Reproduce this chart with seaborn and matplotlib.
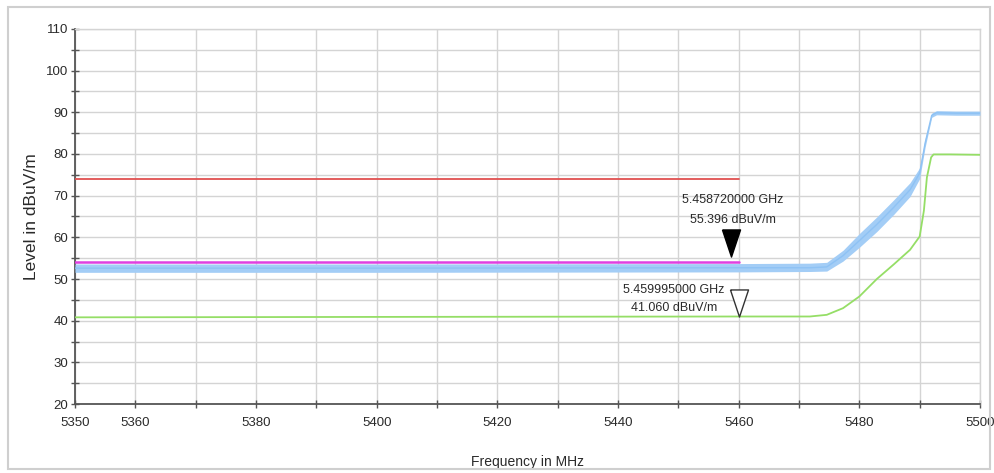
import numpy as np
import pandas as pd
import matplotlib
matplotlib.use("Agg")
import matplotlib.pyplot as plt
import seaborn as sns
from matplotlib.patches import Rectangle
from matplotlib.transforms import ScaledTranslation

# ---------------- data ----------------
blue_freq = [5350, 5400, 5460, 5471.8, 5474.6, 5477.3, 5480.0, 5482.9, 5485.7,
             5488.4, 5490.0, 5490.9, 5492.0, 5492.8, 5496, 5500]
blue_level = [52.6, 52.6, 52.7, 52.7, 52.9, 55.6, 59.2, 63.1, 67.2,
              71.4, 75.4, 82.6, 89.3, 89.9, 89.8, 89.8]
blue_low = [51.6, 51.6, 51.7, 51.8, 51.9, 54.3, 57.6, 61.4, 65.5,
            69.8, 74.1, 81.6, 88.8, 89.4, 89.3, 89.3]
blue_high = [53.6, 53.6, 53.7, 53.8, 54.0, 56.9, 60.9, 64.9, 69.0,
             73.1, 76.7, 83.6, 89.8, 90.4, 90.3, 90.3]

green_freq = [5350, 5400, 5460, 5471.8, 5474.6, 5477.3, 5480.0, 5482.9, 5485.7,
              5488.4, 5490.0, 5490.7, 5491.2, 5491.9, 5492.3, 5495, 5500]
green_level = [40.8, 40.9, 41.0, 41.0, 41.4, 43.0, 45.8, 50.0, 53.5,
               57.0, 60.2, 66.4, 74.4, 79.2, 79.9, 79.9, 79.8]

limit_freq = [5350, 5460]
peak_limit = [74.0, 74.0]
avg_limit = [54.0, 54.0]

marker_freq = [5458.720, 5459.995]
marker_level = [55.396, 41.060]
marker_text = ["5.458720000 GHz\n55.396 dBuV/m", "5.459995000 GHz\n41.060 dBuV/m"]

x_ticks = [5350, 5360, 5370, 5380, 5390, 5400, 5410, 5420, 5430, 5440,
           5450, 5460, 5470, 5480, 5490, 5500]
x_ticklabels = ["5350", "5360", "", "5380", "", "5400", "", "5420", "",
                "5440", "", "5460", "", "5480", "", "5500"]
y_ticks = [20, 30, 40, 50, 60, 70, 80, 90, 100, 110]

# ---------------- style ----------------
sns.set_style("white")
plt.rcParams["font.family"] = ["Liberation Sans", "DejaVu Sans"]

W, H = 995, 473
fig = plt.figure(figsize=(W / 100, H / 100), dpi=100)
ax = fig.add_axes([75 / W, 1 - 404 / H, (980 - 75) / W, (404 - 29) / H])

BLUE = "#a3cdf6"
BLUE_DARK = "#8ec2f4"
GREEN = "#95de66"
RED = "#e05050"
MAGENTA = "#e040e0"
TXT = "#2a2a2a"

df_blue = pd.DataFrame({"freq": blue_freq, "level": blue_level})
df_green = pd.DataFrame({"freq": green_freq, "level": green_level})
df_peak = pd.DataFrame({"freq": limit_freq, "level": peak_limit})
df_avg = pd.DataFrame({"freq": limit_freq, "level": avg_limit})

ax.fill_between(blue_freq, blue_low, blue_high, color=BLUE, lw=0, zorder=3)
sns.lineplot(data=df_blue, x="freq", y="level", ax=ax, color=BLUE_DARK, lw=1.0, zorder=4)
sns.lineplot(data=df_green, x="freq", y="level", ax=ax, color=GREEN, lw=1.3, zorder=4)
sns.lineplot(data=df_peak, x="freq", y="level", ax=ax, color=RED, lw=1.3, zorder=4)
sns.lineplot(data=df_avg, x="freq", y="level", ax=ax, color=MAGENTA, lw=1.8, zorder=5)

# markers: tip of triangle at the data point
tri = [(-0.667, 1), (0.667, 1), (0, -1), (-0.667, 1)]
msize = 19.5
shift = ScaledTranslation(0, msize / 2 / 72, fig.dpi_scale_trans)
ax.plot([marker_freq[0]], [marker_level[0]], marker=tri, markersize=msize,
        color="black", ls="none", transform=ax.transData + shift, zorder=6)
ax.plot([marker_freq[1]], [marker_level[1]], marker=tri, markersize=msize,
        markerfacecolor="white", markeredgecolor="#333333", markeredgewidth=1.0,
        ls="none", transform=ax.transData + shift, zorder=6)

ax.text(5459.0, 66.6, marker_text[0], ha="center", va="center", fontsize=9,
        color=TXT, linespacing=1.95, zorder=7)
ax.text(5449.3, 45.2, marker_text[1], ha="center", va="center", fontsize=9,
        color=TXT, linespacing=1.65, zorder=7)

# axes & grid
ax.set_xlim(5350, 5500)
ax.set_ylim(20, 110)
ax.set_xticks(x_ticks)
ax.set_xticklabels(x_ticklabels)
ax.set_yticks(y_ticks)
ax.set_yticks(np.arange(25, 110, 10), minor=True)
ax.grid(True, which="both", color="#d4d4d4", lw=1.0, zorder=0)
ax.set_axisbelow(True)

for s in ["top", "right"]:
    ax.spines[s].set_color("#d4d4d4")
    ax.spines[s].set_linewidth(1.0)
for s in ["left", "bottom"]:
    ax.spines[s].set_color("#555555")
    ax.spines[s].set_linewidth(1.3)

ax.tick_params(axis="both", which="both", direction="inout", length=6, width=1,
               color="#555555", labelsize=9.5, labelcolor=TXT)
ax.tick_params(axis="y", which="both", pad=2, left=True)
ax.tick_params(axis="x", which="both", pad=6, bottom=True)

ax.set_xlabel("Frequency in MHz", fontsize=10, color=TXT, labelpad=19)
ax.set_ylabel("Level in dBuV/m", fontsize=12.5, color=TXT, labelpad=5)

# outer light frame
fig.patches.append(Rectangle((8 / W, 1 - 469 / H), (990 - 8) / W, (469 - 7) / H,
                             transform=fig.transFigure, fill=False,
                             edgecolor="#cfcfcf", lw=1.5))

fig.savefig("out.png", dpi=100)
